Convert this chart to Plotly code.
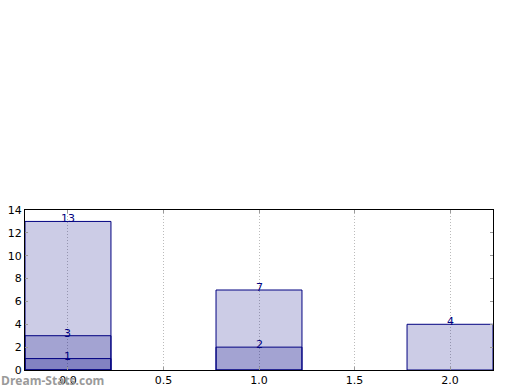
import plotly.graph_objects as go

categories = [0, 1, 2]
series_a = [13, 7, 4]
series_b = [3, 2, None]
series_c = [1, None, None]
x_ticks = [0.0, 0.5, 1.0, 1.5, 2.0]
x_tick_labels = ["0.0", "0.5", "1.0", "1.5", "2.0"]
y_ticks = [0, 2, 4, 6, 8, 10, 12, 14]

fig = go.Figure()
for s in (series_a, series_b, series_c):
    fig.add_trace(go.Bar(
        x=categories, y=s, width=0.45,
        marker=dict(color="rgba(0,0,128,0.2)", line=dict(color="#000080", width=1)),
        hoverinfo="skip", showlegend=False,
    ))
    for xv, yv in zip(categories, s):
        if yv is not None:
            fig.add_annotation(x=xv, y=yv, text=str(yv), showarrow=False,
                               yanchor="bottom", yshift=-6,
                               font=dict(family="DejaVu Sans", size=11, color="#000080"))

fig.add_annotation(xref="paper", yref="paper", x=-0.056, y=-0.0625, xanchor="left", yanchor="middle",
                   text="<b>Dream-Stats.com</b>", showarrow=False,
                   font=dict(family="Open Sans", size=12, color="#9a9a9a"))

fig.update_layout(
    width=520, height=390, barmode="overlay",
    margin=dict(l=25, r=27, t=210, b=20, autoexpand=False),
    plot_bgcolor="white", paper_bgcolor="white",
    font=dict(family="DejaVu Sans", size=11, color="black"),
)
fig.update_xaxes(range=[-0.225, 2.225], tickvals=x_ticks, ticktext=x_tick_labels,
                 showgrid=True, gridcolor="#bbbbbb", griddash="1px,2px", gridwidth=1,
                 showline=True, linecolor="black", linewidth=1, mirror="ticks",
                 ticks="inside", ticklen=3, tickcolor="#999999", zeroline=False,
                 automargin=False)
fig.update_yaxes(range=[0, 14], tickvals=y_ticks, showgrid=False,
                 showline=True, linecolor="black", linewidth=1, mirror="ticks",
                 ticks="inside", ticklen=3, tickcolor="#999999", zeroline=False,
                 automargin=False)

fig.write_html("out.html")
